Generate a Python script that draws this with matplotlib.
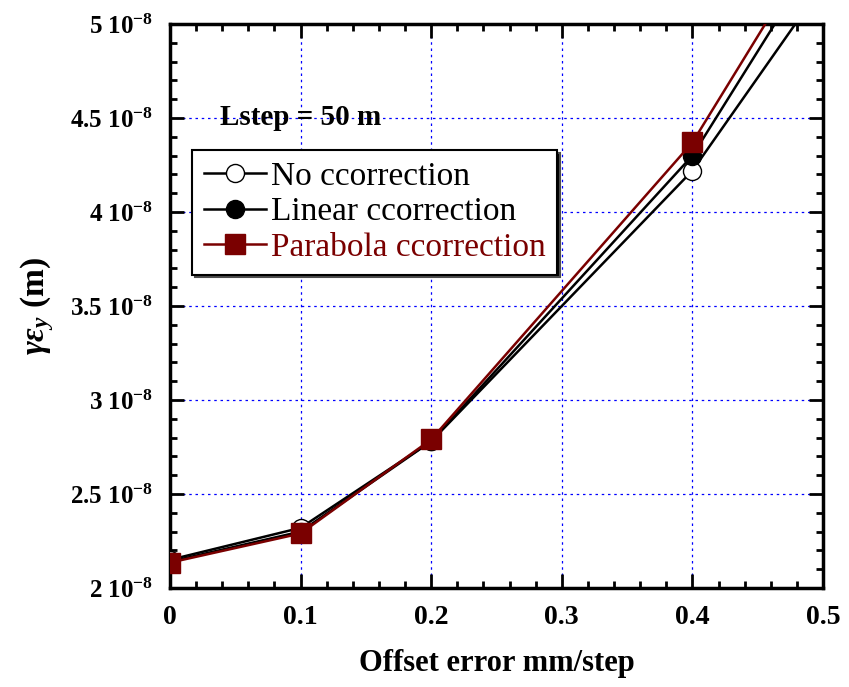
import matplotlib.pyplot as plt
from matplotlib.ticker import MultipleLocator, FixedLocator, FixedFormatter

plt.rcParams['font.family'] = 'Liberation Serif'
plt.rcParams['mathtext.fontset'] = 'custom'
plt.rcParams['mathtext.rm'] = 'Liberation Serif:bold'
plt.rcParams['mathtext.it'] = 'Liberation Serif:italic:bold'
plt.rcParams['mathtext.bf'] = 'Liberation Serif:bold'

# data (offset error in mm/step, emittance in m)
offset = [0.0, 0.1, 0.2, 0.4, 0.5]
no_corr = [2.15e-8, 2.32e-8, 2.78e-8, 4.22e-8, 5.21e-8]
lin_corr = [2.14e-8, 2.30e-8, 2.78e-8, 4.30e-8, 5.41e-8]
para_corr = [2.135e-8, 2.29e-8, 2.79e-8, 4.37e-8, 5.50e-8]

ytick_vals = [2e-8, 2.5e-8, 3e-8, 3.5e-8, 4e-8, 4.5e-8, 5e-8]
ytick_labels = ['2 10$^{-8}$', '2.5 10$^{-8}$', '3 10$^{-8}$', '3.5 10$^{-8}$',
                '4 10$^{-8}$', '4.5 10$^{-8}$', '5 10$^{-8}$']
dark_red = '#7a0000'

fig = plt.figure(figsize=(8.49, 6.87), dpi=100)
ax = fig.add_axes([0.2002, 0.1441, 0.7692, 0.8209])

ax.plot(offset, no_corr, color='black', lw=1.8, marker='o', ms=13,
        mfc='white', mec='black', mew=1.0, label='No ccorrection', zorder=3)
ax.plot(offset, lin_corr, color='black', lw=1.8, marker='o', ms=13,
        mfc='black', mec='black', label='Linear ccorrection', zorder=4)
ax.plot(offset, para_corr, color=dark_red, lw=1.8, marker='s', ms=14,
        mfc=dark_red, mec=dark_red, label='Parabola ccorrection', zorder=5)

ax.set_xlim(0, 0.5)
ax.set_ylim(2e-8, 5e-8)
ax.xaxis.set_minor_locator(MultipleLocator(0.02))
ax.yaxis.set_major_locator(FixedLocator(ytick_vals))
ax.yaxis.set_major_formatter(FixedFormatter(ytick_labels))
ax.yaxis.set_minor_locator(MultipleLocator(0.1e-8))
ax.set_xticks([0, 0.1, 0.2, 0.3, 0.4, 0.5])
ax.set_xticklabels(['0', '0.1', '0.2', '0.3', '0.4', '0.5'])

ax.tick_params(which='both', direction='in', top=True, right=True, width=2)
ax.tick_params(which='major', length=10, pad=12)
ax.tick_params(axis='x', which='major', labelsize=20)
ax.tick_params(axis='y', which='major', labelsize=18)
ax.tick_params(which='minor', length=5)
for lab in ax.get_xticklabels() + ax.get_yticklabels():
    lab.set_fontweight('bold')
for sp in ax.spines.values():
    sp.set_linewidth(2.5)

ax.grid(True, which='major', color='blue', linestyle=(0, (2, 3)), linewidth=0.9)

ax.set_xlabel('Offset error mm/step', fontsize=22, fontweight='bold', labelpad=14)
ax.set_ylabel(r'$\gamma\varepsilon_y$ (m)', fontsize=24, fontweight='bold', labelpad=10)

ax.text(0.077, 0.835, 'Lstep = 50 m', transform=ax.transAxes, fontsize=21,
        fontweight='bold', va='center', ha='left')

leg = ax.legend(loc='upper left', bbox_to_anchor=(0.034, 0.777), borderaxespad=0,
                fontsize=24, frameon=True, fancybox=False, framealpha=1,
                edgecolor='black', handlelength=1.85, handletextpad=0.15,
                labelspacing=0.15, borderpad=0.35,
                shadow={'facecolor': 'black', 'alpha': 1.0})
leg.get_frame().set_linewidth(1.5)
leg.get_texts()[2].set_color(dark_red)

fig.savefig('out.png', dpi=100)
